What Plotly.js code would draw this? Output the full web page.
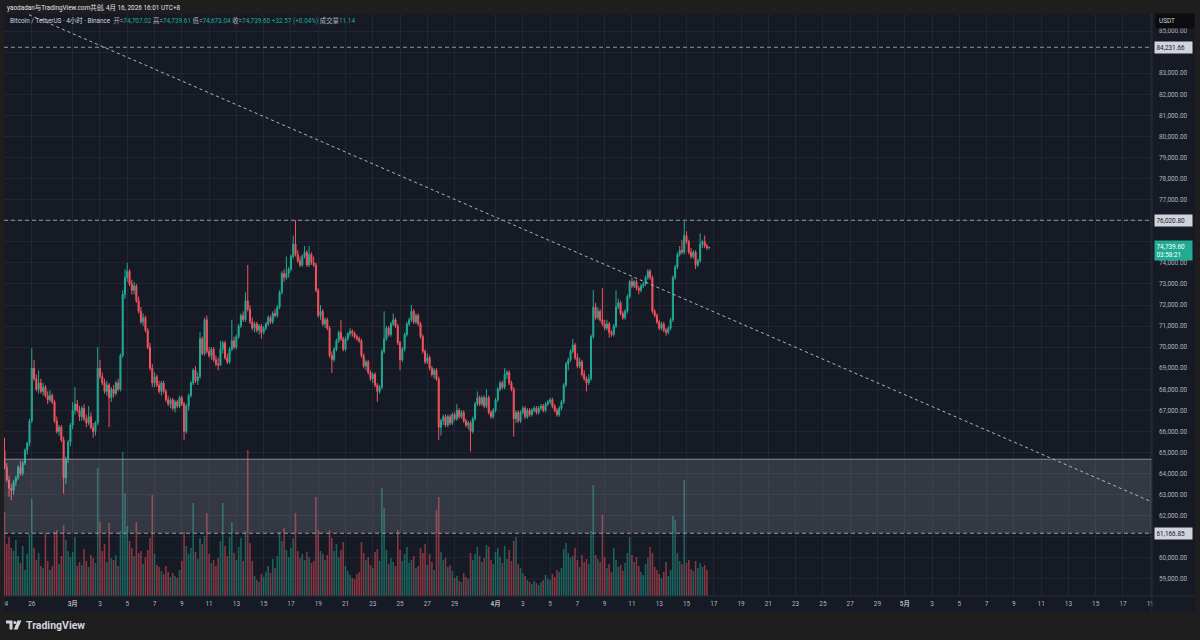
<!DOCTYPE html>
<html>
<head>
<meta charset="utf-8">
<script src="https://cdn.plot.ly/plotly-3.0.1.min.js"></script>
<style>
html,body{margin:0;padding:0;background:#1e1e1e;overflow:hidden;}
#chart{width:1200px;height:640px;}
</style>
</head>
<body>
<div id="chart"></div>
<script>
// ================= DATA =================
// 4-hour candles, UTC+8 wall clock, first bar opens 2026-02-24 00:00
const firstCandle = '2026-02-24T00:00:00Z';

const open = [
65100,64300,63700,63300,63200,63600, // Feb 24
63800,64300,64000,64500,65100,65450, // Feb 25
66500,69000,68500,68000,68300,67900, // Feb 26
68100,67700,67500,67700,67400,66500, // Feb 27
66000,66200,65600,63800,64700,65500, // Feb 28
66300,67000,67300,67000,66700,67100, // Mar 1
66600,66400,66700,66200,66000,66400, // Mar 2
69000,68600,68300,67900,68200,67600, // Mar 3
68000,67800,68300,68000,69600,72500, // Mar 4
73300,73600,73000,72700,72900,72200, // Mar 5
71700,71200,71400,70800,70000,69000, // Mar 6
68300,68600,68200,67900,68300,67900, // Mar 7
67500,67300,67500,67100,67400,67200, // Mar 8
67600,67300,66000,67200,67700,68300, // Mar 9
68900,68400,68600,70400,69700,71300, // Mar 10
69800,69600,69900,69400,69200,69150, // Mar 11
69900,70200,69500,69300,69900,70300, // Mar 12
70000,70500,71000,71500,71300,72200, // Mar 13
71800,71200,70900,71100,70800,71000, // Mar 14
70700,70900,71100,71400,71200,71600, // Mar 15
71500,71900,72600,73500,73300,73500, // Mar 16
73700,74300,74900,74400,74100,73900, // Mar 17
74300,74500,73900,74400,74000,73900, // Mar 18
72700,71500,71700,71100,71300,70900, // Mar 19
69600,69400,69900,70300,70700,70400, // Mar 20
69900,70400,70650,70750,70650,70500, // Mar 21
70400,70300,69600,69100,69300,68800, // Mar 22
68500,68700,68200,67900,68100,69800, // Mar 23
70400,70900,70600,71100,71300,71000, // Mar 24
70200,69400,69900,70600,71100,71300, // Mar 25
71700,71200,71500,71100,70500,69800, // Mar 26
69300,69500,69000,68700,68900,68500, // Mar 27
66200,66500,66700,66300,66700,66400, // Mar 28
66800,66600,67000,66700,66900,66500, // Mar 29
66300,66400,66000,66600,67300,67600, // Mar 30
67300,67600,67200,67600,66900,66700, // Mar 31
67000,67500,68000,68300,68100,68700, // Apr 1
68800,68300,68000,66600,66900,66500, // Apr 2
66900,67100,66700,67000,66800,67000, // Apr 3
67100,66900,67100,67200,67000,67300, // Apr 4
67400,67500,67200,67000,66800,67100, // Apr 5
67400,68200,69200,69400,69800,70100, // Apr 6
69500,69100,69300,68700,68500,68300, // Apr 7
68500,70500,71900,71400,71700,71300, // Apr 8
71100,70900,71100,70700,70600,71000, // Apr 9
71900,72100,71600,71400,71700,72400, // Apr 10
73100,72900,73100,72800,72700,72900, // Apr 11
73000,73300,73600,73300,71700,71500, // Apr 12
71200,70900,71100,70800,70700,70900, // Apr 13
71300,73300,73800,74400,74600,74500, // Apr 14
75300,75000,74500,74300,74500,73900, // Apr 15
74100,74900,75000,74800,74707.02     // Apr 16
];

const high = [
65700,64500,63900,63500,63700,63900,
64400,64600,64600,65200,65500,66600,
69950,69400,68700,68900,68500,68300,
68200,67900,67950,67800,67500,66700,
66300,66300,65750,64800,65600,66400,
67400,68100,67500,67200,67200,67300,
66800,67200,66900,66400,66500,70000,
69400,68800,68500,68400,68300,68100,
68200,68400,68500,69700,72700,73700,
74000,73700,73200,73100,73000,72400,
71900,71600,71500,70900,70200,69200,
68800,68700,68400,68400,68400,68000,
67700,67600,67600,67500,67500,67700,
67700,67400,67300,67800,68400,69000,
69100,68800,70700,70500,71400,71500,
70000,70000,70000,69600,69500,70300,
70300,70300,69700,70000,71300,70500,
70600,71100,71600,71700,72600,73900,
72000,71400,71200,71200,71100,71100,
71000,71200,71500,71500,71700,71800,
72000,72700,73600,73700,74300,73800,
74400,75300,76020,74600,74300,74400,
74800,74600,74800,74500,74300,74000,
72800,72000,71800,71400,71400,71000,
69800,70000,70400,70800,71300,70500,
70500,70700,70900,70850,70750,70600,
70500,70400,69700,69400,69400,68900,
68800,68800,68300,68200,69900,71700,
71000,71000,71200,71600,71400,71100,
70300,70000,70700,71200,71400,72000,
71800,71600,71600,71200,70600,69900,
69700,69600,69100,69000,69000,68600,
66600,66800,66800,66800,66800,66900,
66900,67300,67100,67000,67000,66600,
66500,66500,66700,67400,67900,67700,
67700,67700,68000,67700,67000,67100,
67600,68100,68400,68400,69000,68900,
68900,68400,68100,67000,67000,67000,
67200,67200,67100,67100,67100,67200,
67200,67200,67300,67300,67400,67500,
67600,67600,67300,67100,67200,67500,
68300,69300,69500,69900,70400,70200,
69700,69500,69400,68900,68600,68700,
70600,72700,72100,71900,71800,72800,
71300,71300,71200,70800,71100,72700,
72300,72200,71700,71800,72500,73200,
73300,73200,73200,72900,73000,73100,
73400,73700,73700,73400,71800,71600,
71300,71200,71200,70900,71000,71400,
73400,73900,74500,74800,75100,75990,
75500,75100,74700,74600,74600,74200,
75400,75100,75300,74900,74739.61
];

const low = [
64200,63600,62900,62740,63000,63400,
63700,63900,63900,64400,64900,65300,
66400,68400,67900,67800,67800,67700,
67600,67300,67400,67300,66400,65900,
65800,65500,63050,63500,64500,65300,
66100,66800,66900,66500,66500,66500,
66200,66300,66100,65700,65800,66300,
68500,68200,67800,67700,66200,67400,
67600,67700,67900,67900,69500,72300,
73100,72900,72500,72500,72100,71600,
71100,71000,70700,69900,68900,68100,
68100,68100,67800,67700,67800,67400,
67200,67100,67000,66900,67100,67100,
67200,65600,65900,67000,67600,68200,
68300,68200,68500,69600,69600,69700,
69500,69400,69300,69100,68900,69100,
69700,69400,69200,69200,69800,69900,
69900,70400,70900,71200,71200,71700,
71100,70800,70700,70700,70600,70400,
70600,70800,71000,71100,71100,71400,
71400,71800,72500,73100,73200,73300,
73600,74200,74300,74000,73800,73800,
74200,73800,73800,73900,73800,72600,
71400,71300,71000,70900,70800,69500,
68770,69300,69800,70200,70300,69800,
69800,70300,70500,70500,70400,70300,
70200,69500,69000,68900,68700,68400,
68300,68100,67400,67800,68000,69700,
70300,70500,70500,71000,70900,70100,
68900,69300,69800,70500,71000,71200,
71100,71100,71000,70400,69700,69200,
69200,68900,68600,68500,68400,65600,
65800,66300,66200,66200,66300,66300,
66500,66500,66600,66600,66400,66200,
66100,65050,65900,66500,67200,67200,
67200,67100,67100,66800,66600,66600,
66900,67400,67900,68000,68000,68500,
68200,67900,65750,66400,66400,66400,
66800,66600,66600,66700,66700,66900,
66800,66800,67000,66900,66900,67200,
67300,67100,66900,66700,66700,67000,
67300,68100,68900,69300,69700,69400,
69000,69000,68600,68400,67900,68200,
68400,70400,71300,71300,71200,71000,
70800,70800,70450,70500,70500,70900,
71800,71500,71300,71300,71600,72300,
72800,72800,72700,72500,72600,72800,
72900,73200,73200,71600,71400,71100,
70800,70800,70700,70550,70600,70800,
71200,73200,73700,74300,74400,74400,
74900,74400,74200,74200,73700,73800,
74000,74700,74700,74600,74673.04
];

const close = [
64300,63700,63300,63200,63600,63800,
64300,64000,64500,65100,65450,66500,
69000,68500,68000,68300,67900,68100,
67700,67500,67700,67400,66500,66000,
66200,65600,63800,64700,65500,66300,
67000,67300,67000,66700,67100,66600,
66400,66700,66200,66000,66400,69000,
68600,68300,67900,68200,67600,68000,
67800,68300,68000,69600,72500,73300,
73600,73000,72700,72900,72200,71700,
71200,71400,70800,70000,69000,68300,
68600,68200,67900,68300,67900,67500,
67300,67500,67100,67400,67200,67600,
67300,66000,67200,67700,68300,68900,
68400,68600,70400,69700,71300,69800,
69600,69900,69400,69200,69150,69900,
70200,69500,69300,69900,70300,70000,
70500,71000,71500,71300,72200,71800,
71200,70900,71100,70800,71000,70700,
70900,71100,71400,71200,71600,71500,
71900,72600,73500,73300,73500,73700,
74300,74900,74400,74100,73900,74300,
74500,73900,74400,74000,73900,72700,
71500,71700,71100,71300,70900,69600,
69400,69900,70300,70700,70400,69900,
70400,70650,70750,70650,70500,70400,
70300,69600,69100,69300,68800,68500,
68700,68200,67900,68100,69800,70400,
70900,70600,71100,71300,71000,70200,
69400,69900,70600,71100,71300,71700,
71200,71500,71100,70500,69800,69300,
69500,69000,68700,68900,68500,66200,
66500,66700,66300,66700,66400,66800,
66600,67000,66700,66900,66500,66300,
66400,66000,66600,67300,67600,67300,
67600,67200,67600,66900,66700,67000,
67500,68000,68300,68100,68700,68800,
68300,68000,66600,66900,66500,66900,
67100,66700,67000,66800,67000,67100,
66900,67100,67200,67000,67300,67400,
67500,67200,67000,66800,67100,67400,
68200,69200,69400,69800,70100,69500,
69100,69300,68700,68500,68300,68500,
70500,71900,71400,71700,71300,71100,
70900,71100,70700,70600,71000,71900,
72100,71600,71400,71700,72400,73100,
72900,73100,72800,72700,72900,73000,
73300,73600,73300,71700,71500,71200,
70900,71100,70800,70700,70900,71300,
73300,73800,74400,74600,74500,75300,
75000,74500,74300,74500,73900,74100,
74900,75000,74800,74707.03,74739.60
];

const volume = [
8400,5200,5900,4800,4500,5600,
4000,3300,5000,2600,4200,6200,
9700,4800,3600,4300,3000,2800,
6300,3500,2600,3000,6400,6600,
3200,4000,7100,5600,4500,3900,
4400,5900,3000,3400,3100,4700,
3500,2900,4100,3800,3300,12800,
7400,4500,5200,3400,7300,3800,
3600,4100,3000,6500,14400,10300,
7000,5500,4800,4000,7400,4300,
4500,3200,3900,4600,5800,10100,
4200,3100,2900,2500,2200,3000,
2400,1900,2300,2000,1800,2600,
3500,6400,5000,4200,4800,9300,
4400,3700,5800,5200,6000,8300,
4200,3300,3600,3000,3800,5500,
9300,5000,4000,5900,7400,4300,
3600,4900,5800,3500,6500,14600,
5300,3500,2000,1600,1400,2200,
1900,2400,3000,2300,3700,2800,
4000,6400,5500,6800,4600,3900,
4800,5800,8300,4500,3800,4200,
3600,4400,3900,3300,3500,9900,
6600,4500,4200,3600,4100,6600,
5800,4500,5200,3900,4600,5400,
3000,2500,2100,1800,1700,2200,
2400,5400,4300,3600,3900,3100,
2800,4400,4700,3500,10800,8800,
4600,3200,3800,3400,3000,6600,
4600,3500,4200,4900,3300,3600,
4000,2800,3000,4800,4300,5200,
3100,4200,3400,2600,8600,9900,
4400,3600,3800,2900,3100,2500,
1800,2000,1500,1400,2300,1900,
1700,4300,3600,4200,4900,4000,
3400,3800,5100,4900,3600,3200,
4400,4800,3900,3300,5000,3700,
4600,3500,5500,5900,3200,2800,
2300,2000,1600,1400,1200,1500,
1300,1100,1400,1600,2100,1700,
1600,2200,1900,2600,2400,2800,
4700,5300,4300,3800,4000,4800,
3600,2900,4100,3400,3700,3200,
6500,11100,4100,3700,3400,8100,
3900,2800,3200,2400,4800,3600,
2900,3100,2500,3300,4300,5900,
4100,3400,3900,3000,2400,2100,
3200,3800,4900,4300,2900,2600,
2200,1800,2400,3400,2000,2600,
8000,7600,4300,3500,3200,11600,
3300,3600,2700,2500,3500,2800,
3300,2900,3100,2600,11.14
];

const tickDates = ['2026-02-24','2026-02-26','2026-03-01','2026-03-03','2026-03-05','2026-03-07','2026-03-09','2026-03-11','2026-03-13','2026-03-15','2026-03-17','2026-03-19','2026-03-21','2026-03-23','2026-03-25','2026-03-27','2026-03-29','2026-04-01','2026-04-03','2026-04-05','2026-04-07','2026-04-09','2026-04-11','2026-04-13','2026-04-15','2026-04-17','2026-04-19','2026-04-21','2026-04-23','2026-04-25','2026-04-27','2026-04-29','2026-05-01','2026-05-03','2026-05-05','2026-05-07','2026-05-09','2026-05-11','2026-05-13','2026-05-15','2026-05-17','2026-05-19'];
const tickLabels = ['24','26','<b>3月</b>','3','5','7','9','11','13','15','17','19','21','23','25','27','29','<b>4月</b>','3','5','7','9','11','13','15','17','19','21','23','25','27','29','<b>5月</b>','3','5','7','9','11','13','15','17','19'];

const priceTicks = [59000,60000,61000,62000,63000,64000,65000,66000,67000,68000,69000,70000,71000,72000,73000,74000,75000,76000,77000,78000,79000,80000,81000,82000,83000,84000,85000];
// price ticks whose labels sit under a price-label box on the axis
const coveredTicks = [61000,75000,76000,84000];

const hLines = [84231.66, 76020.80, 61166.85];
const zoneBottom = 61166.85, zoneTop = 64680;
const trendA = ['2026-02-25 19:00', 85780];
const trendB = ['2026-05-20 00:00', 62406];
const countdown = '03:58:21';

// ================= STYLE / LAYOUT =================
const UP = '#22ab94', DN = '#f7525f';
const UPV = 'rgba(34,171,148,0.5)', DNV = 'rgba(247,82,95,0.5)';
const BG = '#161a25', OUTER = '#1e1e1e', GRID = '#222632';
const FONT = 'Roboto, "Noto Sans CJK SC", sans-serif';
const TXT = '#b2b5be';
const FS = 6.4;

const t0 = Date.parse(firstCandle);
const times = open.map((_, i) => new Date(t0 + i * 4 * 3600 * 1000).toISOString().slice(0, 16).replace('T', ' '));
const volColors = close.map((c, i) => c >= open[i] ? UPV : DNV);

// pixel -> paper helpers (plot area: x 4..1152, y 14..596)
const L = 4, R = 1152, T = 14, B = 596;
const PX = X => (X - L) / (R - L);
const PY = Y => (B - Y) / (B - T);

const fmt = v => v.toLocaleString('en-US', {minimumFractionDigits: 2, maximumFractionDigits: 2});
const priceTickText = priceTicks.map(p => coveredTicks.includes(p) ? '' : fmt(p));
const n = close.length - 1;
const chg = close[n] - close[n - 1];
const pct = chg / close[n - 1] * 100;
const g = s => `<span style="color:${UP}">${s}</span>`;
const gr = s => `<span style="color:#b2b5be">${s}</span>`;
const legendText =
  `<span style="color:#d1d4dc">Bitcoin / TetherUS · 4小时 · Binance</span>&nbsp;&nbsp;` +
  gr('开=') + g(fmt(open[n])) + '&nbsp;' +
  gr('高=') + g(fmt(high[n])) + '&nbsp;' +
  gr('低=') + g(fmt(low[n])) + '&nbsp;' +
  gr('收=') + g(fmt(close[n])) + '&nbsp;' +
  g((chg >= 0 ? '+' : '') + chg.toFixed(2) + ' (' + (pct >= 0 ? '+' : '') + pct.toFixed(2) + '%)') + '&nbsp;' +
  gr('成交量') + g(volume[n].toFixed(2));

const shapes = [
  // chart canvas
  {type:'rect', xref:'paper', yref:'paper', x0:PX(4), x1:PX(1195), y0:PY(612), y1:PY(14), fillcolor:BG, line:{width:0}, layer:'below'},
  // zone
  {type:'rect', xref:'paper', yref:'y', x0:0, x1:1, y0:zoneBottom, y1:zoneTop, fillcolor:'rgba(190,193,204,0.18)', line:{width:0}, layer:'above'},
  {type:'line', xref:'paper', yref:'y', x0:0, x1:1, y0:zoneTop, y1:zoneTop, line:{color:'rgba(150,153,162,0.9)', width:1}, layer:'above'},
  // trend line
  {type:'line', xref:'x', yref:'y', x0:trendA[0], y0:trendA[1], x1:trendB[0], y1:trendB[1], line:{color:'#b2b5be', width:1, dash:'3px,3px'}, layer:'above'},
  // separators
  {type:'line', xref:'paper', yref:'paper', x0:1, x1:1, y0:PY(612), y1:PY(14), line:{color:'#2a2e39', width:1}, layer:'above'},
  {type:'line', xref:'paper', yref:'paper', x0:PX(4), x1:PX(1195), y0:0, y1:0, line:{color:'#2a2e39', width:1}, layer:'above'},
  // frame strips
  {type:'rect', xref:'paper', yref:'paper', x0:PX(0), x1:PX(4), y0:PY(640), y1:PY(0), fillcolor:OUTER, line:{width:0}, layer:'above'},
  {type:'rect', xref:'paper', yref:'paper', x0:PX(1195), x1:PX(1200), y0:PY(640), y1:PY(0), fillcolor:OUTER, line:{width:0}, layer:'above'},
  {type:'rect', xref:'paper', yref:'paper', x0:PX(1152.5), x1:PX(1195), y0:PY(612), y1:PY(596.5), fillcolor:BG, line:{width:0}, layer:'above'},
  // TradingView logo mark
  {type:'path', xref:'paper', yref:'paper', path:`M${PX(6)},${PY(620.5)} L${PX(12.5)},${PY(620.5)} L${PX(12.5)},${PY(629.5)} L${PX(9.5)},${PY(629.5)} L${PX(9.5)},${PY(623.5)} L${PX(6)},${PY(623.5)} Z`, fillcolor:'#d1d4dc', line:{width:0}, layer:'above'},
  {type:'circle', xref:'paper', yref:'paper', x0:PX(13.4), x1:PX(16.4), y0:PY(624), y1:PY(621), fillcolor:'#d1d4dc', line:{width:0}, layer:'above'},
  {type:'path', xref:'paper', yref:'paper', path:`M${PX(17.5)},${PY(620.5)} L${PX(21.5)},${PY(620.5)} L${PX(17.5)},${PY(629.5)} L${PX(13.8)},${PY(629.5)} Z`, fillcolor:'#d1d4dc', line:{width:0}, layer:'above'}
];
hLines.forEach(h => shapes.push({type:'line', xref:'paper', yref:'y', x0:0, x1:1, y0:h, y1:h, line:{color:'#9598a1', width:1, dash:'4px,3px'}, layer:'above'}));

const annotations = [
  {xref:'paper', yref:'paper', x:PX(5), y:PY(7), xanchor:'left', yanchor:'middle', showarrow:false,
   text:'yaodadan与TradingView.com共创, 4月 16, 2026 16:01 UTC+8', font:{family:FONT, size:FS, color:'#e0e3eb'}},
  {xref:'paper', yref:'paper', x:PX(8), y:PY(21), xanchor:'left', yanchor:'middle', showarrow:false,
   text:legendText, font:{family:FONT, size:FS, color:'#d1d4dc'}},
  {xref:'paper', yref:'paper', x:PX(1155), y:PY(21.5), xanchor:'left', yanchor:'middle', showarrow:false,
   text:'USDT', width:32, align:'left', bgcolor:'#0b0c10', borderpad:3, font:{family:FONT, size:FS, color:'#d1d4dc'}},
  {xref:'paper', yref:'y', x:PX(1154), y:close[n], xanchor:'left', yanchor:'top', yshift:7, showarrow:false,
   text:fmt(close[n]) + '<br>' + countdown, width:34, align:'left', bgcolor:UP, borderpad:1.5,
   font:{family:FONT, size:FS, color:'#ffffff'}},
  {xref:'paper', yref:'paper', x:PX(24), y:PY(625), xanchor:'left', yanchor:'middle', showarrow:false,
   text:'<b>TradingView</b>', font:{family:FONT, size:10.5, color:'#d1d4dc'}}
];
hLines.forEach(h => annotations.push({xref:'paper', yref:'y', x:PX(1154), y:h, xanchor:'left', yanchor:'middle', showarrow:false,
  text:fmt(h), width:34, align:'left', bgcolor:'#d1d4dc', borderpad:1.5, font:{family:FONT, size:FS, color:'#131722'}}));

const traces = [
  {type:'candlestick', x:times, open:open, high:high, low:low, close:close, xaxis:'x', yaxis:'y',
   increasing:{line:{color:UP, width:1}, fillcolor:UP},
   decreasing:{line:{color:DN, width:1}, fillcolor:DN},
   whiskerwidth:0, hoverinfo:'skip', showlegend:false},
  {type:'bar', x:times, y:volume, xaxis:'x', yaxis:'y2', marker:{color:volColors, line:{width:0}},
   hoverinfo:'skip', showlegend:false}
];

const layout = {
  width:1200, height:640,
  margin:{l:L, r:1200 - R, t:T, b:640 - B, pad:0},
  paper_bgcolor:OUTER, plot_bgcolor:'rgba(0,0,0,0)',
  showlegend:false, dragmode:false, hovermode:false,
  font:{family:FONT, size:FS, color:TXT},
  boxgap:0.35, bargap:0.3,
  xaxis:{type:'date', range:['2026-02-23 23:07', '2026-05-19 03:04'],
    tickmode:'array', tickvals:tickDates, ticktext:tickLabels, tickangle:0,
    showgrid:true, gridcolor:GRID, gridwidth:1, zeroline:false, showline:false, ticks:'',
    tickfont:{family:FONT, size:FS, color:TXT}, ticklabelstandoff:3,
    rangeslider:{visible:false}, fixedrange:true},
  yaxis:{side:'right', range:[58189, 85811], tickmode:'array', tickvals:priceTicks, ticktext:priceTickText,
    showgrid:true, gridcolor:GRID, gridwidth:1, zeroline:false, showline:false, ticks:'',
    tickfont:{family:FONT, size:FS, color:TXT}, ticklabelstandoff:6, fixedrange:true},
  yaxis2:{overlaying:'y', side:'left', range:[0, 58200], visible:false, showgrid:false, fixedrange:true},
  shapes:shapes, annotations:annotations
};

Plotly.newPlot('chart', traces, layout, {staticPlot:true, displayModeBar:false});
</script>
</body>
</html>
